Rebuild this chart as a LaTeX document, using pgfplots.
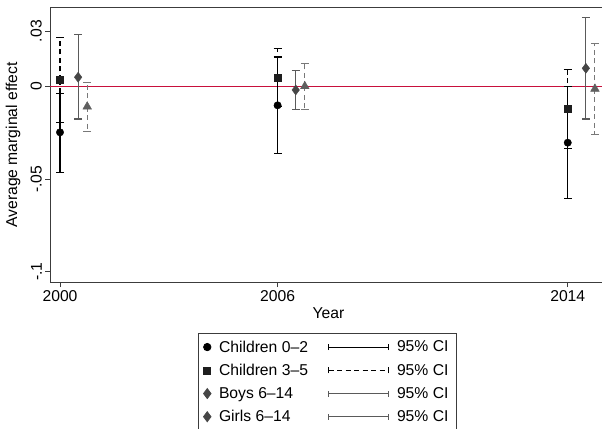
\documentclass[border=0pt]{standalone}
\usepackage{fontspec}
\setmainfont{Liberation Sans}
\usepackage{pgfplots}
\usepackage{pgfplotstable}
\pgfplotsset{compat=1.18}

\definecolor{redline}{RGB}{200,16,60}
\definecolor{axgray}{RGB}{60,60,60}
\definecolor{boysline}{RGB}{90,90,90}
\definecolor{boysmark}{RGB}{70,70,70}
\definecolor{girlsline}{RGB}{120,120,120}
\definecolor{girlsmark}{RGB}{95,95,95}
\definecolor{sqmark}{RGB}{30,30,30}

\pgfplotstableread{
x y lo hi
2000 -0.0247 -0.0463 -0.0036
2006 -0.0101 -0.0362 0.0160
2014 -0.0303 -0.0607 0.0001
}\kidsa
\pgfplotstableread{
x y lo hi
2000 0.0036 -0.0193 0.0265
2006 0.0049 -0.0106 0.0204
2014 -0.0119 -0.0332 0.0094
}\kidsb
\pgfplotstableread{
x y lo hi
2000.5 0.0051 -0.0175 0.0283
2006.5 -0.0018 -0.0122 0.0085
2014.5 0.0099 -0.0175 0.0373
}\boys
\pgfplotstableread{
x y lo hi
2000.75 -0.0108 -0.0243 0.0022
2006.75 0.0002 -0.0126 0.0126
2014.75 -0.0012 -0.0259 0.0235
}\girls

\newcommand{\fnt}{\fontsize{15.7bp}{18bp}\selectfont}

\pgfplotsset{
  markimg/.style={legend image code/.code={\draw[##1] plot coordinates {(0bp,0bp)};}},
  ciimg/.style={legend image code/.code={%
    \draw[##1] (0bp,0bp)--(60bp,0bp);
    \draw[##1,solid] (0bp,-3bp)--(0bp,3bp) (60bp,-3bp)--(60bp,3bp);}},
  cibar/.style 2 args={forget plot, draw=none, mark=none,
    error bars/.cd, y dir=both, y explicit,
    error bar style={draw=#1, line width=1.1bp, #2},
    error mark options={rotate=90, mark size=4bp, draw=#1, line width=1.1bp, solid}},
}

\begin{document}
\begin{tikzpicture}
\begin{axis}[
  at={(0,0)}, anchor=south west,
  scale only axis, width=554bp, height=274bp,
  xmin=1999.724, xmax=2015, ymin=-0.1056, ymax=0.0425,
  axis line style={draw=axgray, line width=1bp},
  xtick={2000,2006,2014}, xticklabels={2000,2006,2014},
  ytick={-0.1,-0.05,0,0.03}, yticklabels={-.1,-.05,0,.03},
  tick style={draw=axgray, line width=1bp},
  tick align=outside, major tick length=5bp,
  xtick pos=bottom, ytick pos=left,
  /pgf/number format/assume math mode=true,
  ticklabel style={font=\fnt},
  yticklabel style={rotate=90, anchor=south, inner sep=3bp},
  xticklabel style={inner sep=3bp},
  ylabel={Average marginal effect},
  xlabel={Year},
  every axis y label/.style={at={(axis description cs:-0.0668,0.5)}, anchor=center, rotate=90, font=\fnt},
  every axis x label/.style={at={(axis description cs:0.5027,-0.115)}, anchor=center, font=\fnt},
  clip=false,
  legend columns=2,
  legend cell align=left,
  legend style={at={(axis description cs:0.5,-0.187)}, anchor=north, font=\fnt,
    draw=axgray, line width=0.8bp, inner xsep=5.5bp, inner ysep=5bp, row sep=6.5bp,
    /tikz/every odd column/.append style={column sep=6bp},
    /tikz/every even column/.append style={column sep=18bp}},
]
\addplot[redline, line width=1.1bp, forget plot] coordinates {(1999.724,0) (2015,0)};

\addlegendimage{markimg, only marks, mark=*, mark size=3.7bp, black}
\addlegendentry{Children 0--2}
\addlegendimage{ciimg, black, line width=1bp}
\addlegendentry{95\% CI}
\addlegendimage{markimg, only marks, mark=square*, mark size=3.5bp, sqmark}
\addlegendentry{Children 3--5}
\addlegendimage{ciimg, black, line width=1bp, dash pattern=on 5bp off 3.5bp}
\addlegendentry{95\% CI}
\addlegendimage{markimg, only marks, mark=diamond*, mark size=5bp, boysmark}
\addlegendentry{Boys 6--14}
\addlegendimage{ciimg, boysline, line width=1bp}
\addlegendentry{95\% CI}
\addlegendimage{markimg, only marks, mark=diamond*, mark size=5bp, boysmark}
\addlegendentry{Girls 6--14}
\addlegendimage{ciimg, boysline, line width=1bp}
\addlegendentry{95\% CI}

\addplot[cibar={black}{solid}] table[x=x, y=y, y error plus expr=\thisrow{hi}-\thisrow{y}, y error minus expr=\thisrow{y}-\thisrow{lo}] {\kidsa};
\addplot[cibar={black}{dash pattern=on 5bp off 3.5bp}] table[x=x, y=y, y error plus expr=\thisrow{hi}-\thisrow{y}, y error minus expr=\thisrow{y}-\thisrow{lo}] {\kidsb};
\addplot[cibar={boysline}{solid}] table[x=x, y=y, y error plus expr=\thisrow{hi}-\thisrow{y}, y error minus expr=\thisrow{y}-\thisrow{lo}] {\boys};
\addplot[cibar={girlsline}{dash pattern=on 5bp off 3.5bp}] table[x=x, y=y, y error plus expr=\thisrow{hi}-\thisrow{y}, y error minus expr=\thisrow{y}-\thisrow{lo}] {\girls};

\addplot[forget plot, only marks, mark=*, mark size=3.7bp, black] table[x=x, y=y] {\kidsa};
\addplot[forget plot, only marks, mark=square*, mark size=3.5bp, sqmark] table[x=x, y=y] {\kidsb};
\addplot[forget plot, only marks, mark=diamond*, mark size=5bp, boysmark] table[x=x, y=y] {\boys};
\addplot[forget plot, only marks, mark=triangle*, mark size=5bp, girlsmark] table[x=x, y=y] {\girls};
\end{axis}
\pgfresetboundingbox
\path[use as bounding box] (-50bp,-147bp) rectangle (552bp,282bp);
\end{tikzpicture}
\end{document}
